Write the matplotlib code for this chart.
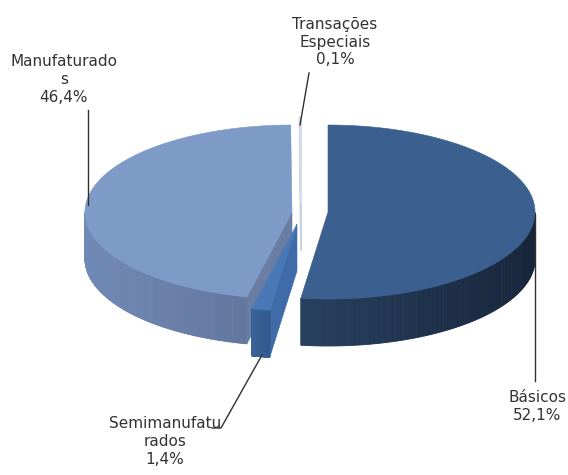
import numpy as np
import matplotlib.pyplot as plt
from matplotlib.patches import Polygon
from matplotlib.colors import to_rgb

# data
labels = ['Básicos', 'Semimanufaturados', 'Manufaturados', 'Transações Especiais']
values = [52.1, 1.4, 46.4, 0.1]
label_text = ['Básicos\n52,1%', 'Semimanufatu\nrados\n1,4%',
              'Manufaturado\ns\n46,4%', 'Transações\nEspeciais\n0,1%']

# style
top_colors = ['#3B5F8E', '#4878B6', '#7E9BC8', '#D6DCE8']
side_colors = [('#27405F', '#17253A'), ('#3A6399', '#335A8E'),
               ('#7189B6', '#5E7297'), ('#C9D0E0', '#C9D0E0')]
face_colors = ['#2E4A70', '#3F6CA8', '#6A7DA2', '#C9D0E0']
offsets = [(18, 0), (-13, 12), (-18, 0), (-9, -8)]
draw_order = [3, 0, 2, 1]
label_pos = [(537, 407), (165, 442), (64, 80), (335, 42)]
leaders = [[(535, 215), (535, 381)],
           [(262, 355), (221, 428), (212, 428)],
           [(88, 205), (88, 110)],
           [(300, 125), (309, 73)]]

cx, cy, a, b, depth = 310, 212, 207, 87, 47

fig = plt.figure(figsize=(5.68, 4.75), dpi=100)
ax = fig.add_axes([0, 0, 1, 1])
ax.set_xlim(0, 568)
ax.set_ylim(475, 0)
ax.axis('off')

total = sum(values)
cum = np.concatenate([[0], np.cumsum(values)]) / total


def pt(ox, oy, t):
    return ox + a * np.cos(t), oy - b * np.sin(t)


def mix(c1, c2, f):
    c1, c2 = np.array(to_rgb(c1)), np.array(to_rgb(c2))
    return tuple(c1 + (c2 - c1) * f)


for i in draw_order:
    t1 = np.radians(90 - 360 * cum[i + 1])
    t2 = np.radians(90 - 360 * cum[i])
    ox, oy = cx + offsets[i][0], cy + offsets[i][1]
    lw = 1.2 if i == 3 else 0.4

    # radial faces facing the viewer
    for t, visible in [(t1, np.cos(t1) > 1e-9), (t2, np.cos(t2) < -1e-9)]:
        if visible or i == 3:
            x, y = pt(ox, oy, t)
            poly = [(ox, oy), (x, y), (x, y + depth), (ox, oy + depth)]
            ax.add_patch(Polygon(poly, closed=True, fc=face_colors[i],
                                 ec=face_colors[i], lw=lw))

    # outer wall, front half only
    ts = np.linspace(t1, t2, 240)
    xs, ys = pt(ox, oy, ts)
    x_lo, x_hi = xs.min(), xs.max()
    for k in range(len(ts) - 1):
        if np.sin((ts[k] + ts[k + 1]) / 2) >= 0:
            continue
        f = (xs[k] - x_lo) / max(x_hi - x_lo, 1)
        col = mix(side_colors[i][0], side_colors[i][1], f)
        poly = [(xs[k], ys[k]), (xs[k + 1], ys[k + 1]),
                (xs[k + 1], ys[k + 1] + depth), (xs[k], ys[k] + depth)]
        ax.add_patch(Polygon(poly, closed=True, fc=col, ec=col, lw=0.6))

    # top face
    poly = [(ox, oy)] + list(zip(xs, ys))
    ax.add_patch(Polygon(poly, closed=True, fc=top_colors[i],
                         ec=top_colors[i], lw=lw))

for i in range(len(values)):
    xs, ys = zip(*leaders[i])
    ax.plot(xs, ys, color='#303030', lw=1)
    ax.text(label_pos[i][0], label_pos[i][1], label_text[i], ha='center',
            va='center', fontsize=11, color='#333333', linespacing=1.25,
            family='DejaVu Sans')

fig.savefig('out.png', dpi=100)
